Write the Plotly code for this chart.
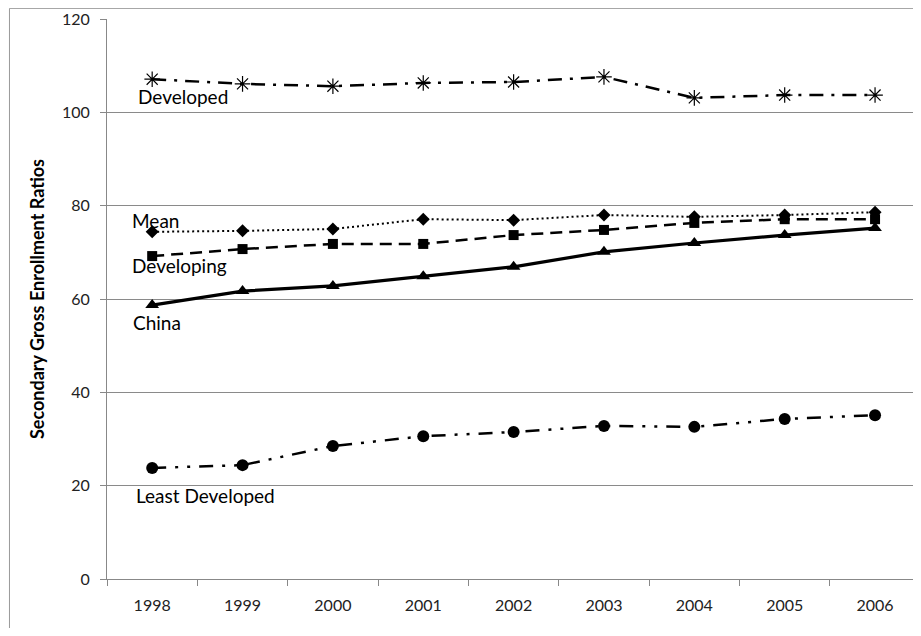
import plotly.graph_objects as go

years = ["1998", "1999", "2000", "2001", "2002", "2003", "2004", "2005", "2006"]
developed = [107.1, 106.1, 105.6, 106.3, 106.5, 107.6, 103.1, 103.7, 103.7]
mean = [74.4, 74.6, 75.0, 77.1, 76.9, 78.0, 77.6, 78.0, 78.6]
developing = [69.2, 70.7, 71.8, 71.8, 73.7, 74.8, 76.3, 77.1, 77.1]
china = [58.7, 61.7, 62.8, 64.9, 66.9, 70.1, 72.0, 73.7, 75.2]
least_developed = [23.8, 24.4, 28.5, 30.6, 31.5, 32.8, 32.6, 34.3, 35.1]

FONT = "Lato"

fig = go.Figure()

def add(name, vals, dash, width, symbol, size, lw=0):
    fig.add_trace(go.Scatter(
        x=years, y=vals, name=name, mode="lines+markers",
        line=dict(color="black", width=width, dash=dash),
        marker=dict(symbol=symbol, size=size, color="black",
                    line=dict(color="black", width=lw)),
        showlegend=False,
    ))

add("Developed", developed, "14px,8px,3px,8px", 2.5, "asterisk-open", 13, 1.2)
add("Mean", mean, "2px,3px", 2, "diamond", 10)
add("Developing", developing, "12px,7px", 2.5, "square", 10)
add("China", china, "solid", 3.2, "triangle-up", 12)
add("Least Developed", least_developed, "14px,9px,3px,9px,3px,9px", 2.5, "circle", 12)

labels = [
    ("Developed", 103.3, -0.18),
    ("Mean", 76.9, -0.25),
    ("Developing", 67.1, -0.25),
    ("China", 54.9, -0.23),
    ("Least Developed", 18.0, -0.2),
]
for txt, yv, dx in labels:
    fig.add_annotation(x=dx, y=yv, xref="x", yref="y", text=txt,
                       showarrow=False, xanchor="left", yanchor="middle",
                       font=dict(family=FONT, size=19, color="black"))

# outer chart border (partial, as in screenshot)
fig.add_shape(type="rect", xref="paper", yref="paper",
              x0=-0.121, x1=1.05, y0=-0.2, y1=1.019,
              line=dict(color="#9a9a9a", width=1), layer="below")

fig.update_layout(
    width=905, height=620,
    margin=dict(l=99, r=0, t=11, b=49),
    paper_bgcolor="white", plot_bgcolor="white",
    font=dict(family=FONT, color="#222"),
    xaxis=dict(
        type="category", tickson="boundaries", showgrid=False,
        ticks="outside", ticklen=6, tickcolor="#888",
        showline=True, linecolor="#888", linewidth=1,
        tickfont=dict(size=16, family=FONT, color="#222"),
        ticklabelstandoff=12,
        range=[-0.5, 8.42],
    ),
    yaxis=dict(
        range=[0, 120], tickvals=[0, 20, 40, 60, 80, 100, 120],
        showgrid=True, gridcolor="#8a8a8a", gridwidth=1,
        ticks="outside", ticklen=6, tickcolor="#888",
        showline=True, linecolor="#888", linewidth=1,
        tickfont=dict(size=16, family=FONT, color="#222"),
        ticklabelstandoff=7,
        title=dict(text="<b>Secondary Gross Enrollment Ratios</b>",
                   font=dict(size=18, family=FONT, color="black"),
                   standoff=12),
        zeroline=False,
    ),
)

fig.write_html("out.html")
